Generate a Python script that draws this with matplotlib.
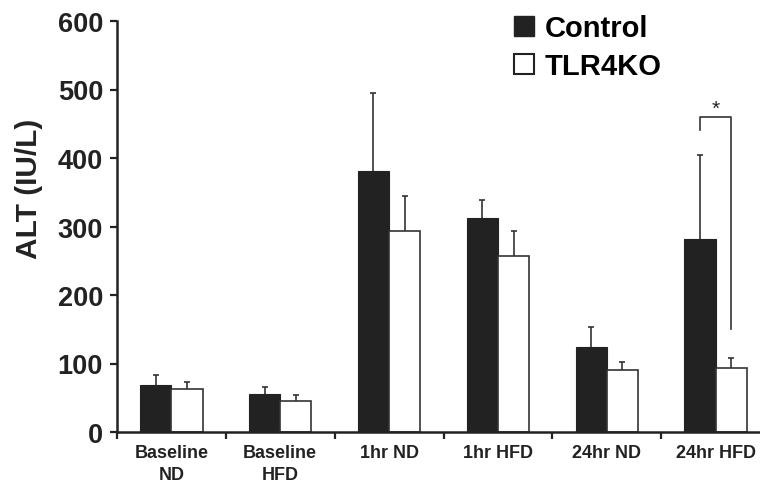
import numpy as np
import matplotlib
matplotlib.use("Agg")
import matplotlib.pyplot as plt
from matplotlib.patches import Patch

# -----------------------
# Data
# -----------------------
groups = ["Baseline\nND", "Baseline\nHFD", "1hr ND", "1hr HFD", "24hr ND", "24hr HFD"]
control = [69, 55, 381, 312, 124, 282]
control_err = [14, 11, 114, 26, 30, 123]
tlr4ko = [63, 45, 293, 257, 90, 94]
tlr4ko_err = [10, 8.5, 51, 36, 11.5, 14]
y_ticks = [0, 100, 200, 300, 400, 500, 600]

# significance bracket on 24hr HFD
sig_group = 5
sig_top = 460
sig_left_end = 441
sig_right_end = 151

plt.rcParams['font.family'] = ['Liberation Sans', 'DejaVu Sans']
plt.rcParams['font.weight'] = 'bold'

dark = '#222222'
edge = '#333333'

fig = plt.figure(figsize=(7.6, 4.85), dpi=100)
ax = fig.add_axes([117/760, 52/485, 653/760, 411/485])

x = np.arange(len(groups))
w = 0.287

ax.bar(x - w/2, control, w, color=dark, edgecolor=dark, linewidth=0.8, zorder=2)
ax.bar(x + w/2, tlr4ko, w, color='white', edgecolor=edge, linewidth=1.2, zorder=2)

# error bars sit behind the bars, so only the upper half shows
ax.errorbar(x - w/2, control, yerr=control_err,
            fmt='none', ecolor=edge, elinewidth=1.2, capsize=2.5, capthick=1.2, zorder=1)
ax.errorbar(x + w/2, tlr4ko, yerr=tlr4ko_err,
            fmt='none', ecolor=edge, elinewidth=1.2, capsize=2.5, capthick=1.2, zorder=1)

# bracket + star
xl = sig_group - w/2
xr = sig_group + w/2
ax.plot([xl, xl, xr, xr], [sig_left_end, sig_top, sig_top, sig_right_end],
        color=edge, linewidth=1.2, clip_on=False)
ax.text(sig_group, sig_top - 2, '*', ha='center', va='bottom', fontsize=15,
        fontweight='normal', color=dark)

# axes styling
ax.set_xlim(-0.5, 5.5)
ax.set_ylim(0, 600)
ax.spines['top'].set_visible(False)
ax.spines['right'].set_visible(False)
ax.spines['left'].set_linewidth(1.8)
ax.spines['bottom'].set_linewidth(1.8)
ax.spines['left'].set_color(dark)
ax.spines['bottom'].set_color(dark)

ax.set_yticks(y_ticks)
ax.tick_params(axis='y', direction='out', length=5, width=1.6, pad=5,
               labelsize=19.5, colors=dark)

ax.set_xticks(x)
ax.set_xticklabels(groups, fontsize=13, fontweight='bold', linespacing=1.35)
ax.set_xticks(np.arange(-0.5, 5.5, 1.0), minor=True)
ax.tick_params(axis='x', which='major', length=0, pad=9, colors=dark)
ax.tick_params(axis='x', which='minor', direction='out', length=5, width=1.6, color=dark)

ax.set_ylabel('ALT (IU/L)', fontsize=21.5, fontweight='bold', color=dark)
ax.yaxis.set_label_coords(-0.113, 0.594)

handles = [Patch(facecolor=dark, edgecolor=dark, label='Control'),
           Patch(facecolor='white', edgecolor=dark, linewidth=1.5, label='TLR4KO')]
ax.legend(handles=handles, loc='upper left', bbox_to_anchor=(514/760, 1 - 15/485),
          bbox_transform=fig.transFigure, frameon=False, fontsize=21,
          handlelength=0.7, handleheight=0.7, handletextpad=0.35,
          labelspacing=0.35, borderpad=0, borderaxespad=0)

fig.savefig('out.png', dpi=100)
